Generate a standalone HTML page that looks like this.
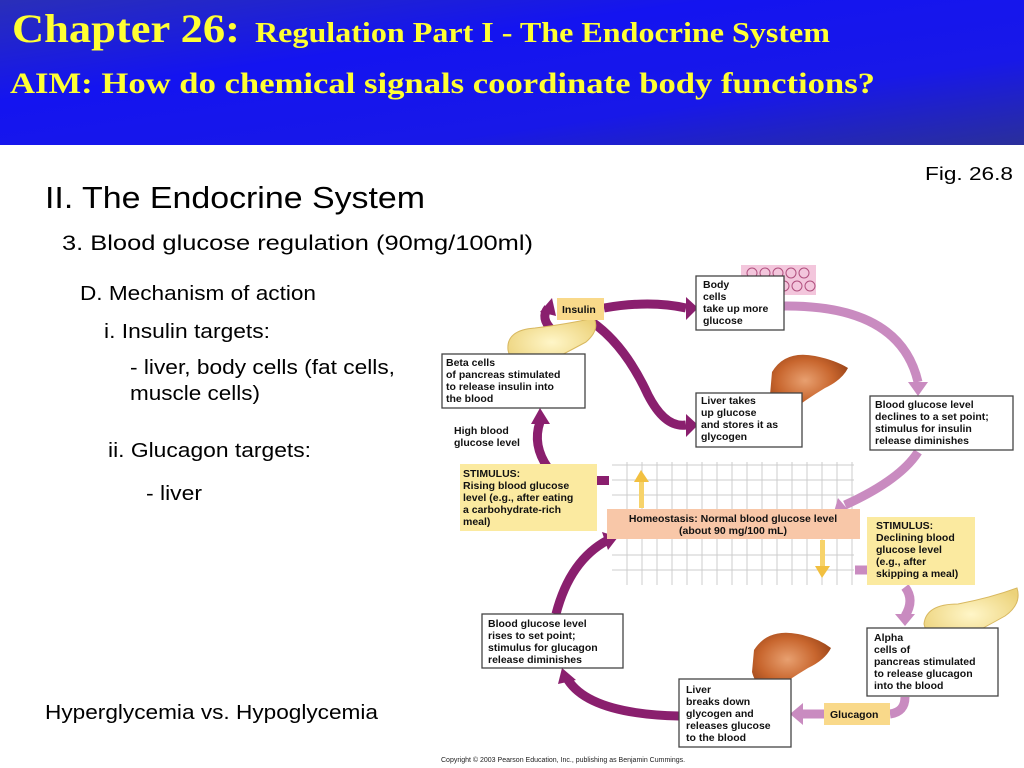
<!DOCTYPE html>
<html><head><meta charset="utf-8"><style>
html,body{margin:0;padding:0;background:#fff;}
svg{display:block;}
</style></head><body>
<svg width="1024" height="768" viewBox="0 0 1024 768" xmlns="http://www.w3.org/2000/svg">
<defs>
<linearGradient id="hdr" x1="0" y1="0" x2="1" y2="1">
<stop offset="0" stop-color="#2a2fb8"/><stop offset="0.35" stop-color="#1414f0"/><stop offset="0.7" stop-color="#1818e8"/><stop offset="1" stop-color="#2a2f9a"/>
</linearGradient>
<radialGradient id="liv" cx="0.45" cy="0.45" r="0.6"><stop offset="0" stop-color="#e8a070"/><stop offset="0.6" stop-color="#c8662e"/><stop offset="1" stop-color="#9a4418"/></radialGradient>
<radialGradient id="pan" cx="0.5" cy="0.5" r="0.6"><stop offset="0" stop-color="#fff6c8"/><stop offset="1" stop-color="#ecd27a"/></radialGradient>
</defs>
<rect x="0" y="0" width="1024" height="145" fill="url(#hdr)"/>
<g font-family="Liberation Serif, serif" font-weight="bold" fill="#ffff33">
<text x="12" y="42" font-size="40" textLength="228" lengthAdjust="spacingAndGlyphs">Chapter 26:</text>
<text x="255" y="42" font-size="28" textLength="575" lengthAdjust="spacingAndGlyphs">Regulation Part I - The Endocrine System</text>
<text x="10" y="93" font-size="30" textLength="865" lengthAdjust="spacingAndGlyphs">AIM: How do chemical signals coordinate body functions?</text>
</g>
<g font-family="Liberation Sans, sans-serif" fill="#000" lengthAdjust="spacingAndGlyphs">
<text x="925" y="180" font-size="18" textLength="88" lengthAdjust="spacingAndGlyphs">Fig. 26.8</text>
<text x="45" y="208" font-size="31" textLength="380" lengthAdjust="spacingAndGlyphs">II. The Endocrine System</text>
<text x="62" y="250" font-size="21" textLength="471" lengthAdjust="spacingAndGlyphs">3. Blood glucose regulation (90mg/100ml)</text>
<text x="80" y="300" font-size="20" textLength="236" lengthAdjust="spacingAndGlyphs">D. Mechanism of action</text>
<text x="104" y="338" font-size="20" textLength="166" lengthAdjust="spacingAndGlyphs">i. Insulin targets:</text>
<text x="130" y="374" font-size="20" textLength="265" lengthAdjust="spacingAndGlyphs">- liver, body cells (fat cells,</text>
<text x="130" y="400" font-size="20" textLength="130" lengthAdjust="spacingAndGlyphs">muscle cells)</text>
<text x="108" y="457" font-size="20" textLength="203" lengthAdjust="spacingAndGlyphs">ii. Glucagon targets:</text>
<text x="146" y="500" font-size="20" textLength="56" lengthAdjust="spacingAndGlyphs">- liver</text>
<text x="45" y="719" font-size="20" textLength="333" lengthAdjust="spacingAndGlyphs">Hyperglycemia vs. Hypoglycemia</text>
</g>

<g stroke="#ccc" stroke-width="1">
<line x1="612" y1="465" x2="854" y2="465"/><line x1="612" y1="480" x2="854" y2="480"/><line x1="612" y1="495" x2="854" y2="495"/>
<line x1="612" y1="555" x2="854" y2="555"/><line x1="612" y1="570" x2="854" y2="570"/>
<line x1="627" y1="462" x2="627" y2="585"/><line x1="642" y1="462" x2="642" y2="585"/><line x1="657" y1="462" x2="657" y2="585"/><line x1="672" y1="462" x2="672" y2="585"/><line x1="687" y1="462" x2="687" y2="585"/><line x1="702" y1="462" x2="702" y2="585"/><line x1="717" y1="462" x2="717" y2="585"/><line x1="732" y1="462" x2="732" y2="585"/><line x1="747" y1="462" x2="747" y2="585"/><line x1="762" y1="462" x2="762" y2="585"/><line x1="777" y1="462" x2="777" y2="585"/><line x1="792" y1="462" x2="792" y2="585"/><line x1="807" y1="462" x2="807" y2="585"/><line x1="822" y1="462" x2="822" y2="585"/><line x1="837" y1="462" x2="837" y2="585"/><line x1="852" y1="462" x2="852" y2="585"/>
</g>
<rect x="639" y="480" width="5" height="28" fill="#f7d36a"/><polygon points="634,482 641,470 649,482" fill="#f2c040"/>
<rect x="820" y="540" width="5" height="28" fill="#f7d36a"/><polygon points="815,566 822,578 830,566" fill="#f2c040"/>

<g fill="none" stroke="#8a1f6e" stroke-width="9">
<path d="M548 468 Q532 445 540 422"/>
<path d="M552 330 Q540 318 548 308"/>
<path d="M604 308 Q650 300 686 308"/>
<path d="M592 322 Q625 345 648 395 Q665 428 686 425"/>
<path d="M679 716 Q590 714 568 680"/>
<path d="M556 614 Q570 560 608 540"/>
</g>
<g fill="#8a1f6e">
<polygon points="531,424 540,408 550,424"/>
<polygon points="540,312 552,298 556,316"/>
<polygon points="686,297 698,308 686,320"/>
<polygon points="686,414 698,425 686,437"/>
<polygon points="558,684 562,668 576,680"/>
<polygon points="602,532 618,537 608,550"/>
<rect x="597" y="476" width="12" height="9"/>
</g>
<g fill="none" stroke="#c98bc0" stroke-width="9">
<path d="M784 306 Q900 305 918 382"/>
<path d="M918 452 Q900 480 845 505"/>
<path d="M855 570 L868 570"/>
<path d="M905 587 Q915 600 905 616"/>
<path d="M905 697 Q905 712 890 714"/>
<path d="M824 714 L802 714"/>
</g>
<g fill="#c98bc0">
<polygon points="908,382 918,396 928,382"/>
<polygon points="838,498 834,512 850,512"/>
<polygon points="895,614 905,626 915,614"/>
<polygon points="803,703 790,714 803,725"/>
</g>

<rect x="741" y="265" width="75" height="30" fill="#f3c6dc"/>
<g fill="none" stroke="#b0507e" stroke-width="1">
<circle cx="752" cy="273" r="5"/><circle cx="765" cy="273" r="5"/><circle cx="778" cy="273" r="5"/><circle cx="791" cy="273" r="5"/><circle cx="804" cy="273" r="5"/>
<circle cx="758" cy="286" r="5"/><circle cx="771" cy="286" r="5"/><circle cx="784" cy="286" r="5"/><circle cx="797" cy="286" r="5"/><circle cx="810" cy="286" r="5"/>
</g>
<path d="M508 350 Q506 330 535 328 Q568 324 594 318 Q600 330 586 342 Q560 356 540 366 Q512 370 508 350Z" fill="url(#pan)" stroke="#d8b860"/>
<path d="M924 624 Q926 604 958 604 Q990 598 1017 588 Q1022 604 1005 616 Q980 630 960 640 Q928 644 924 624Z" fill="url(#pan)" stroke="#d8b860"/>
<path d="M772 372 Q785 350 815 356 Q835 360 848 368 Q842 380 825 388 Q805 400 790 412 Q775 410 770 395 Z" fill="url(#liv)"/>
<path d="M754 650 Q768 628 798 634 Q818 638 831 648 Q825 660 808 668 Q788 680 772 692 Q756 688 752 672 Z" fill="url(#liv)"/>

<g stroke="#444" stroke-width="1.3" fill="#fff">
<rect x="696" y="276" width="88" height="54"/>
<rect x="442" y="354" width="143" height="54"/>
<rect x="696" y="393" width="106" height="54"/>
<rect x="870" y="396" width="143" height="54"/>
<rect x="482" y="614" width="141" height="54"/>
<rect x="867" y="628" width="131" height="68"/>
<rect x="679" y="679" width="112" height="68"/>
</g>
<rect x="557" y="298" width="47" height="22" fill="#f9d98a"/>
<rect x="460" y="464" width="137" height="67" fill="#fbeaa0"/>
<rect x="607" y="509" width="253" height="30" fill="#f8c7a8"/>
<rect x="867" y="517" width="108" height="68" fill="#fbeaa0"/>
<rect x="824" y="703" width="66" height="22" fill="#f9d98a"/>

<g font-family="Liberation Sans, sans-serif" font-weight="bold" font-size="10.5" fill="#111">
<text x="562" y="313">Insulin</text>
<text x="703" y="288">Body</text><text x="703" y="300">cells</text><text x="703" y="312">take up more</text><text x="703" y="324">glucose</text>
<text x="446" y="366">Beta cells</text><text x="446" y="378">of pancreas stimulated</text><text x="446" y="390">to release insulin into</text><text x="446" y="402">the blood</text>
<text x="701" y="404">Liver takes</text><text x="701" y="416">up glucose</text><text x="701" y="428">and stores it as</text><text x="701" y="440">glycogen</text>
<text x="875" y="408">Blood glucose level</text><text x="875" y="420">declines to a set point;</text><text x="875" y="432">stimulus for insulin</text><text x="875" y="444">release diminishes</text>
<text x="454" y="434">High blood</text><text x="454" y="446">glucose level</text>
<text x="463" y="477">STIMULUS:</text><text x="463" y="489">Rising blood glucose</text><text x="463" y="501">level (e.g., after eating</text><text x="463" y="513">a carbohydrate-rich</text><text x="463" y="525">meal)</text>
<text x="733" y="522" text-anchor="middle">Homeostasis: Normal blood glucose level</text><text x="733" y="534" text-anchor="middle">(about 90 mg/100 mL)</text>
<text x="876" y="529">STIMULUS:</text><text x="876" y="541">Declining blood</text><text x="876" y="553">glucose level</text><text x="876" y="565">(e.g., after</text><text x="876" y="577">skipping a meal)</text>
<text x="488" y="627">Blood glucose level</text><text x="488" y="639">rises to set point;</text><text x="488" y="651">stimulus for glucagon</text><text x="488" y="663">release diminishes</text>
<text x="874" y="641">Alpha</text><text x="874" y="653">cells of</text><text x="874" y="665">pancreas stimulated</text><text x="874" y="677">to release glucagon</text><text x="874" y="689">into the blood</text>
<text x="686" y="693">Liver</text><text x="686" y="705">breaks down</text><text x="686" y="717">glycogen and</text><text x="686" y="729">releases glucose</text><text x="686" y="741">to the blood</text>
<text x="830" y="718">Glucagon</text>
</g>
<text x="441" y="762" font-family="Liberation Sans, sans-serif" font-size="7" fill="#222">Copyright © 2003 Pearson Education, Inc., publishing as Benjamin Cummings.</text>
</svg>
</body></html>
